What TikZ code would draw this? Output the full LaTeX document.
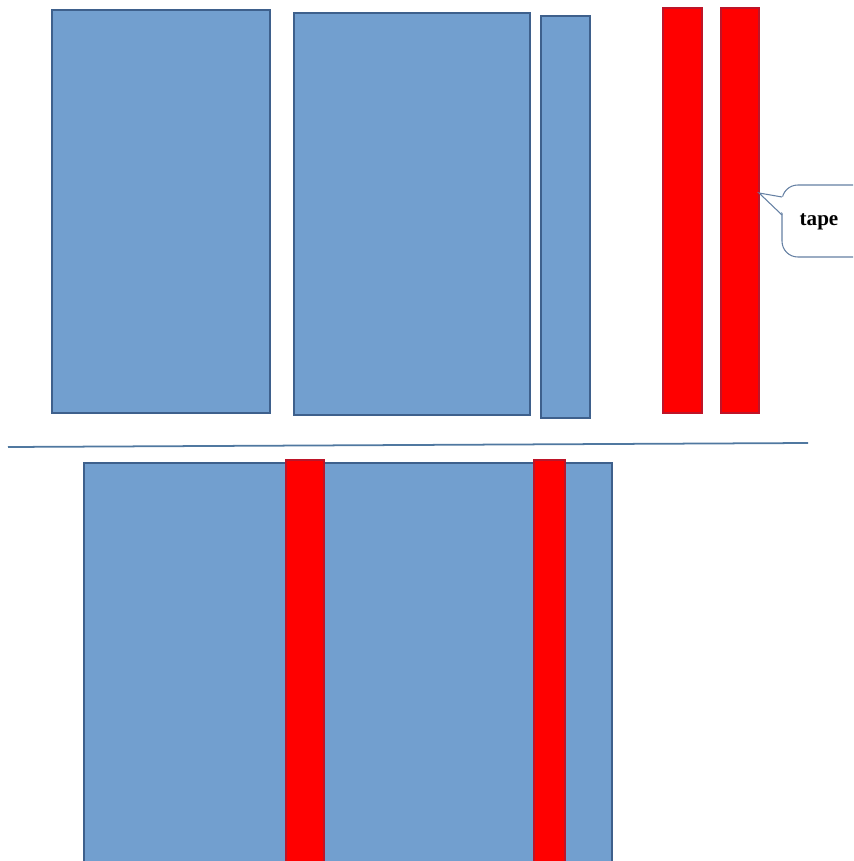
\documentclass[tikz,border=0pt]{standalone}
\usepackage{fontspec}
\setmainfont{Liberation Serif}
\definecolor{panel}{RGB}{114,159,207}
\definecolor{edge}{RGB}{62,96,140}
\definecolor{tapered}{RGB}{255,0,0}
\definecolor{tapeedge}{RGB}{190,20,40}
\definecolor{rule}{RGB}{80,120,160}

\begin{document}
\begin{tikzpicture}[x=0.02cm,y=-0.02cm,
 board/.style={draw=edge,fill=panel,line width=.6pt},
 strip/.style={draw=tapeedge,fill=tapered,line width=.6pt},
 callout/.style={draw=edge!80,fill=white,line width=.6pt},
 label/.style={font=\fontsize{12}{14}\selectfont\bfseries,inner sep=0pt}
]
\useasboundingbox (0,0) rectangle (853,861);
\clip (0,0) rectangle (853,861);
% top: boards and tape apart
\path[board] (52,10) rectangle (270,413);
\path[board] (294,13) rectangle (530,415);
\path[board] (541,16) rectangle (590,418);
\path[strip] (663,8) rectangle (702,413);
\path[strip] (721,8) rectangle (759,413);
% callout
\coordinate (tip) at (759,193);
\path[callout,rounded corners=9pt] (782,185) rectangle (900,257);
\fill[white] (785,197) -- (tip) -- (785,215) -- cycle;
\draw[callout,fill=none] (782,197) -- (tip) -- (782,215);
\node[label] (tape) at (819,222) {tape};
% separator
\draw[rule,line width=1pt] (8,447) -- (808,443);
% bottom: boards taped together
\path[board] (84,463) rectangle (612,870);
\path[strip] (286,460) rectangle (324,870);
\path[strip] (534,460) rectangle (565,870);
\end{tikzpicture}
\end{document}
